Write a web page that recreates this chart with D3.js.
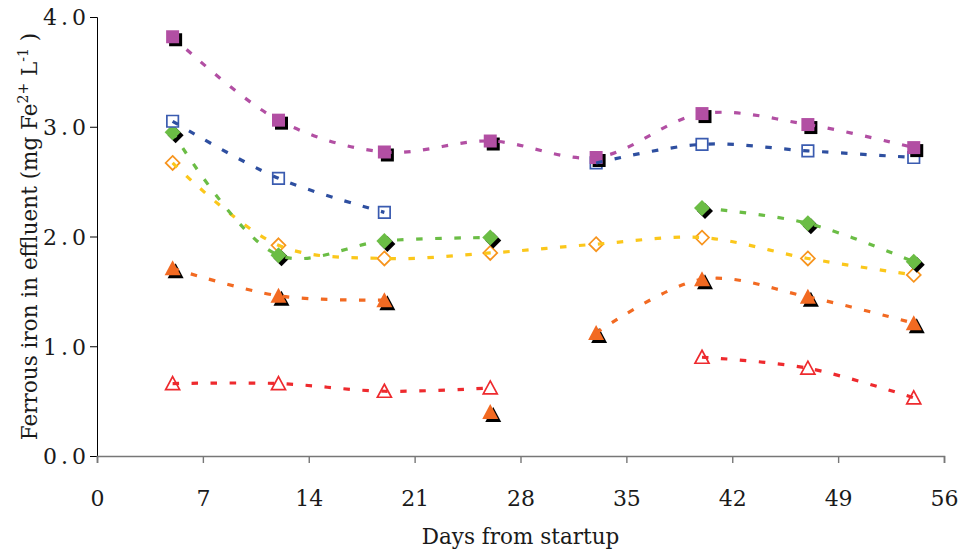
<!DOCTYPE html>
<html>
<head>
<meta charset="utf-8">
<script src="https://cdn.jsdelivr.net/npm/d3@7"></script>
<style>
  html, body { margin: 0; padding: 0; background: #fff; }
  svg { display: block; }
  text { font-family: "DejaVu Serif", "Liberation Serif", serif; fill: #1a1a1a; }
</style>
</head>
<body>
<svg id="chart" width="963" height="553"></svg>
<script>
// ---- data ----
const days = [5, 12, 19, 26, 33, 40, 47, 54];
const xTicks = [0, 7, 14, 21, 28, 35, 42, 49, 56];
const yTicks = [0, 1, 2, 3, 4];

const magentaValues = [3.82, 3.06, 2.77, 2.87, 2.72, 3.12, 3.02, 2.81];
const blueValues    = [3.05, 2.53, 2.22, null, 2.67, 2.84, 2.78, 2.72];
const greenValues   = [2.95, 1.83, 1.96, 1.99, null, 2.26, 2.12, 1.77];
const yellowValues  = [2.67, 1.92, 1.80, 1.85, 1.93, 1.99, 1.80, 1.65];
const orangeValues  = [1.71, 1.46, 1.42, 0.40, 1.12, 1.61, 1.45, 1.21];
const redValues     = [0.66, 0.66, 0.59, 0.62, null, 0.90, 0.80, 0.53];
// which points the dashed curve passes through (orange day 26 stands alone)
const orangeConnected = [true, true, true, false, true, true, true, true];

const series = [
  { name: "red",     values: redValues,     line: "#EE2A2E", marker: "triangle", filled: false, color: "#EE2A2E" },
  { name: "orange",  values: orangeValues,  line: "#F26A22", marker: "triangle", filled: true,  color: "#F26A22", connected: orangeConnected },
  { name: "yellow",  values: yellowValues,  line: "#FBC71B", marker: "diamond",  filled: false, color: "#F7941D" },
  { name: "green",   values: greenValues,   line: "#6BBD45", marker: "diamond",  filled: true,  color: "#6BBD45" },
  { name: "blue",    values: blueValues,    line: "#2E4FA0", marker: "square",   filled: false, color: "#3A5BB0" },
  { name: "magenta", values: magentaValues, line: "#B24FA3", marker: "square",   filled: true,  color: "#B24FA3" }
];

// ---- layout ----
const svg = d3.select("#chart");
const x = d3.scaleLinear().domain([0, 56]).range([97, 944]);
const y = d3.scaleLinear().domain([0, 4]).range([456, 17]);

// axes
const yAxis = svg.append("g").attr("transform", `translate(${x(0)},0)`)
  .call(d3.axisLeft(y).tickValues(yTicks).tickFormat(d3.format(".1f")).tickSizeOuter(0).tickSize(7).tickPadding(0));
yAxis.select(".domain").attr("stroke", "#000").attr("stroke-width", 1);
yAxis.selectAll(".tick line").attr("stroke", "#000");
yAxis.selectAll(".tick text").attr("font-size", 22).attr("fill", "#1a1a1a")
  .attr("font-family", "DejaVu Serif, Liberation Serif, serif")
  .attr("letter-spacing", 4).attr("dy", "0.36em");

const xAxis = svg.append("g").attr("transform", `translate(0,${y(0)})`)
  .call(d3.axisBottom(x).tickValues(xTicks).tickFormat(d3.format("d")).tickSizeOuter(0).tickSize(7).tickPadding(27));
xAxis.select(".domain").attr("stroke", "#777").attr("stroke-width", 1.6);
xAxis.selectAll(".tick line").attr("stroke", "#777").attr("stroke-width", 1.4);
xAxis.selectAll(".tick text").attr("font-size", 22).attr("fill", "#1a1a1a")
  .attr("font-family", "DejaVu Serif, Liberation Serif, serif");

// axis titles
svg.append("text")
  .attr("x", x(28)).attr("y", 544)
  .attr("text-anchor", "middle").attr("font-size", 21.5)
  .text("Days from startup");

const yt = svg.append("text")
  .attr("transform", `translate(37,${(17 + 456) / 2}) rotate(-90)`)
  .attr("text-anchor", "middle").attr("font-size", 21.5);
yt.append("tspan").text("Ferrous iron in effluent (mg Fe");
yt.append("tspan").attr("font-size", 14).attr("dy", -9).text("2+");
yt.append("tspan").attr("dy", 9).text(" L");
yt.append("tspan").attr("font-size", 14).attr("dy", -9).text("-1");
yt.append("tspan").attr("dy", 9).text(" )");

// ---- markers ----
function markerPath(type, filled) {
  if (type === "square") {
    const s = filled ? 13 : 11.5;
    return `M${-s/2},${-s/2}h${s}v${s}h${-s}Z`;
  }
  if (type === "diamond") {
    const r = filled ? 8 : 7;
    return `M0,${-r}L${r},0L0,${r}L${-r},0Z`;
  }
  // triangle
  const w = filled ? 16 : 14, h = filled ? 14 : 12;
  return `M0,${-h/2 - 1}L${w/2},${h/2}L${-w/2},${h/2}Z`;
}

const markersG = svg.append("g");
series.forEach(s => {
  const pts = days.map((d, i) => ({ d, v: s.values[i] })).filter(p => p.v != null);
  const g = markersG.append("g");
  if (s.filled) {
    g.selectAll("path.shadow").data(pts).join("path")
      .attr("class", "shadow")
      .attr("d", markerPath(s.marker, true))
      .attr("transform", p => `translate(${x(p.d) + 3},${y(p.v) + 3})`)
      .attr("fill", "#000");
    g.selectAll("path.mk").data(pts).join("path")
      .attr("class", "mk")
      .attr("d", markerPath(s.marker, true))
      .attr("transform", p => `translate(${x(p.d)},${y(p.v)})`)
      .attr("fill", s.color);
  } else {
    g.selectAll("path.mk").data(pts).join("path")
      .attr("class", "mk")
      .attr("d", markerPath(s.marker, false))
      .attr("transform", p => `translate(${x(p.d)},${y(p.v)})`)
      .attr("fill", "#fff").attr("stroke", s.color).attr("stroke-width", 1.7);
  }
});

// ---- smoothed dashed lines (drawn on top of markers) ----
const lineGen = d3.line()
  .defined(p => p.v != null)
  .x(p => x(p.d)).y(p => y(p.v))
  .curve(d3.curveCatmullRom.alpha(0.5));

const linesG = svg.append("g");
series.forEach(s => {
  const pts = days.map((d, i) => ({
    d, v: (s.connected && !s.connected[i]) ? null : s.values[i]
  }));
  linesG.append("path")
    .attr("d", lineGen(pts))
    .attr("fill", "none")
    .attr("stroke", s.line)
    .attr("stroke-width", 3.2)
    .attr("stroke-dasharray", "6.5,12.5");
});
</script>
</body>
</html>
